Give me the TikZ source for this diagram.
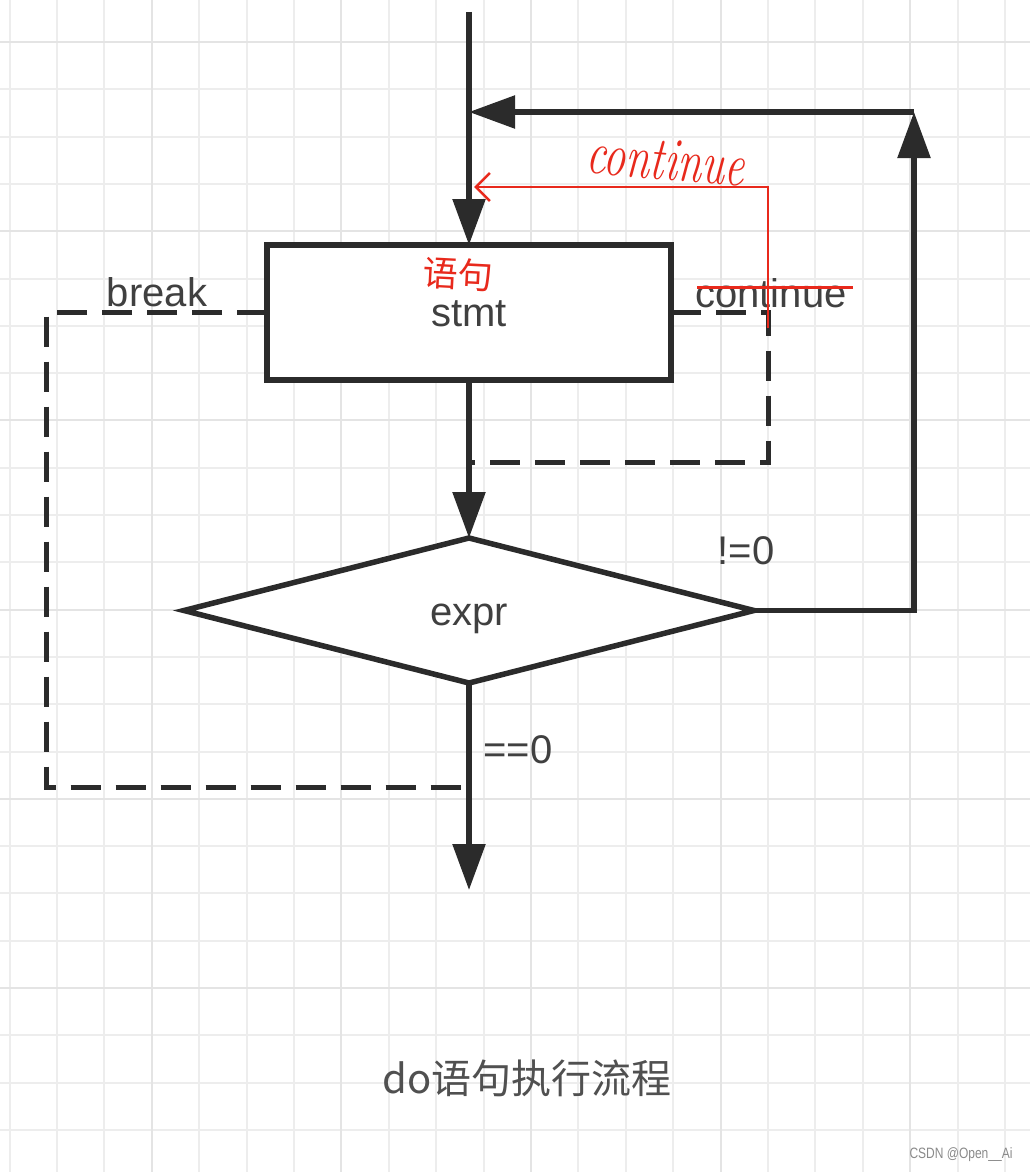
\documentclass[tikz,border=0pt]{standalone}
\usepackage{fontspec}
\usetikzlibrary{arrows.meta,shapes.geometric}
\newfontfamily\labfont{Liberation Sans}
\newfontfamily\cjkfont{Noto Sans CJK SC}
\definecolor{ink}{HTML}{2B2B2B}
\definecolor{labgray}{HTML}{404040}
\definecolor{gridc}{HTML}{EDEDED}
\definecolor{gridd}{HTML}{E4E4E4}
\definecolor{pen}{HTML}{E8291C}
\definecolor{capgray}{HTML}{505050}
\definecolor{wmgray}{HTML}{8A8A8A}
\begin{document}
\begin{tikzpicture}[x=1pt,y=-1pt,
  gridline/.style={draw=gridc, line width=2pt},
  gridbold/.style={draw=gridd, line width=2pt},
  flow/.style={draw=ink, line width=5.5pt, -{Triangle[length=46pt,width=32pt]}},
  dashline/.style={draw=ink, line width=5pt, dash pattern=on 30pt off 15pt},
  lab/.style={font=\labfont\fontsize{40}{42}\selectfont, text=labgray, inner sep=0pt},
  redpen/.style={draw=pen, line width=2.6pt},
  stmtbox/.style={draw=ink, line width=5.5pt, fill=white, minimum width=404pt, minimum height=135pt, inner sep=0pt, outer sep=0pt, text height=38pt, text depth=10pt},
  decide/.style={diamond, draw=ink, line width=5.5pt, fill=white, minimum width=570pt, minimum height=145pt, inner sep=0pt, outer sep=0pt, text height=40pt, text depth=10pt}
]
\useasboundingbox (0,0) rectangle (1030,1172);
\fill[white] (0,0) rectangle (1030,1172);
% grid
\foreach \k in {0,...,21} {
  \pgfmathsetmacro\gx{9.5+47.4*\k}
  \draw[gridline] (\gx,0) -- (\gx,1172);
}
\foreach \k in {0,...,23} {
  \pgfmathsetmacro\gy{42+47.3*\k}
  \draw[gridline] (0,\gy) -- (1030,\gy);
}
\foreach \k in {3,7,11,15,19} {
  \pgfmathsetmacro\gx{9.5+47.4*\k}
  \draw[gridbold] (\gx,0) -- (\gx,1172);
}
\foreach \k in {0,4,8,12,16,20} {
  \pgfmathsetmacro\gy{42+47.3*\k}
  \draw[gridbold] (0,\gy) -- (1030,\gy);
}

% nodes
\node[stmtbox, lab] (stmt) at (469,312.5) {stmt};
\node[decide, lab] (expr) at (469,610.5) {expr};

\coordinate (entry) at (469,12);
\coordinate (lc) at (914,112);
\coordinate (lj) at (469,112);
\coordinate (exit) at (469,890);
\coordinate (bc) at (46,787);
\coordinate (bj) at (469,787);
\coordinate (cc) at (768,462);
\coordinate (cj) at (469,462);

% solid connectors
\draw[flow] (entry) -- (stmt.north);
\draw[flow] (stmt.south) -- (expr.north);
\draw[flow] (expr.south) -- (exit);
\draw[flow] (expr.east) -| (lc);
\draw[flow] (lc) -- (lj);

% dashed connectors
\draw[dashline] (stmt.west) -| (bc) -- (bj);
\draw[dashline] (stmt.east) -| (cc) -- (cj);

% labels
\node[lab] (lbreak) at (157,292) {break};
\node[lab] (lcont) at (771,293) {continue};
\node[lab] (lne) at (746,551) {!=0};
\node[lab] (leq) at (518,750) {==0};

% red annotations
\coordinate (ra) at (768,328);
\coordinate (rb) at (768,187);
\coordinate (rc) at (474,187);
\draw[redpen, -{Straight Barb[length=14pt,width=28pt,line width=2.6pt]}] (ra) -- (rb) -- (rc);
\coordinate (s1) at (697,287);
\coordinate (s2) at (853,287);
\draw[redpen, line width=3pt] (s1) -- (s2);
\node[text=pen, inner sep=0pt, rotate=-5] (rcont) at (666,160)
  {\scalebox{1}[1.4]{\fontsize{44}{44}\selectfont\itshape continue}};
\node[text=pen, inner sep=0pt, rotate=-3, font=\cjkfont\fontsize{35}{38}\selectfont] (ryj) at (458,274) {语句};

% caption and watermark
\node[text=capgray, inner sep=0pt, font=\cjkfont\fontsize{40}{44}\selectfont] (cap) at (527,1078) {do语句执行流程};
\node[text=wmgray, inner sep=0pt] (wm) at (961,1155)
  {\scalebox{0.8}[1]{\labfont\fontsize{15}{17}\selectfont CSDN @Open\_\_Ai}};
\end{tikzpicture}
\end{document}
